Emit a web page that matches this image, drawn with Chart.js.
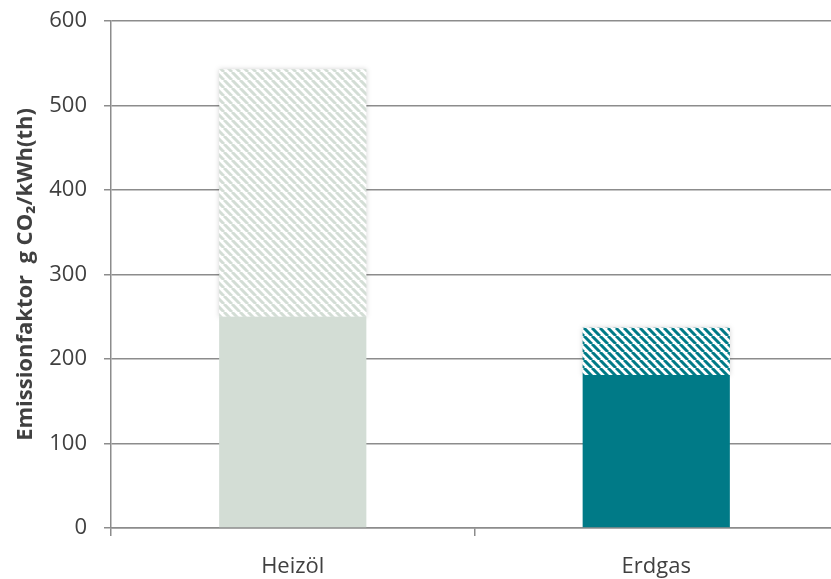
<!DOCTYPE html>
<html>
<head>
<meta charset="utf-8">
<script src="https://cdn.jsdelivr.net/npm/chart.js@4/dist/chart.umd.min.js"></script>
<style>
  html, body { margin: 0; padding: 0; background: #fff; overflow: hidden; }
  #wrap { width: 831px; height: 579px; overflow: hidden; }
</style>
</head>
<body>
<div id="wrap"><canvas id="emChart" width="838" height="579"></canvas></div>
<script>
// fuel types and emission factors (g CO2 per kWh thermal)
const fuels = ['Heizöl', 'Erdgas'];
const baseValues = [250, 181];
const upstreamValues = [293, 56];
const yTicks = [0, 100, 200, 300, 400, 500, 600];

const solidColors = ['#d3ddd5', '#007a87'];

// diagonal stripe fill for the upper part of each bar
function stripes(color) {
  const size = 8;
  const c = document.createElement('canvas');
  c.width = size;
  c.height = size;
  const g = c.getContext('2d');
  g.fillStyle = '#fff';
  g.fillRect(0, 0, size, size);
  g.strokeStyle = color;
  g.lineWidth = 3;
  g.beginPath();
  for (let k = -1; k <= 1; k++) {
    g.moveTo(k * size, 0);
    g.lineTo(k * size + size, size);
  }
  g.stroke();
  return g.createPattern(c, 'repeat');
}

// soft shadow behind the striped segments
const stripeShadow = {
  id: 'stripeShadow',
  beforeDatasetDraw(chart, args) {
    if (args.index !== 1) return;
    const c = chart.ctx;
    c.save();
    c.shadowColor = 'rgba(0,0,0,0.18)';
    c.shadowBlur = 5;
  },
  afterDatasetDraw(chart, args) {
    if (args.index !== 1) return;
    chart.ctx.restore();
  }
};

document.addEventListener('DOMContentLoaded', function () {
  const ctx = document.getElementById('emChart').getContext('2d');
  const hatchColors = solidColors.map(stripes);

  new Chart(ctx, {
    type: 'bar',
    data: {
      labels: fuels,
      datasets: [
        { data: baseValues, backgroundColor: solidColors, borderWidth: 0 },
        { data: upstreamValues, backgroundColor: hatchColors, borderWidth: 0 }
      ]
    },
    plugins: [stripeShadow],
    options: {
      responsive: false,
      animation: false,
      categoryPercentage: 1,
      barPercentage: 0.405,
      layout: { padding: { top: 21, right: 0, left: 13, bottom: 0 } },
      plugins: { legend: { display: false }, tooltip: { enabled: false } },
      scales: {
        x: {
          stacked: true,
          grid: {
            offset: true,
            drawOnChartArea: false,
            drawTicks: true,
            tickLength: 8,
            color: '#8c8c8c',
            lineWidth: 1.5
          },
          border: { color: '#8c8c8c', width: 1.5 },
          ticks: {
            color: '#404040',
            font: { family: 'Open Sans', size: 22 },
            padding: 18
          },
          afterFit: function (scale) { scale.height = 51; }
        },
        y: {
          stacked: true,
          min: 0,
          max: 600,
          afterBuildTicks: function (scale) {
            scale.ticks = yTicks.map(v => ({ value: v }));
          },
          grid: {
            color: '#8c8c8c',
            lineWidth: 1.5,
            tickLength: 7
          },
          border: { color: '#8c8c8c', width: 1.5 },
          ticks: {
            color: '#404040',
            font: { family: 'Open Sans', size: 22 },
            padding: 17
          },
          title: {
            display: true,
            text: 'Emissionfaktor  g CO₂/kWh(th)',
            color: '#404040',
            font: { family: 'Open Sans', size: 22, weight: 'bold' },
            padding: { top: 0, bottom: 0 }
          },
          afterFit: function (scale) {
            scale.width = 98;
            scale.paddingTop = 0;
            scale.paddingBottom = 0;
          }
        }
      }
    }
  });
});
</script>
</body>
</html>
